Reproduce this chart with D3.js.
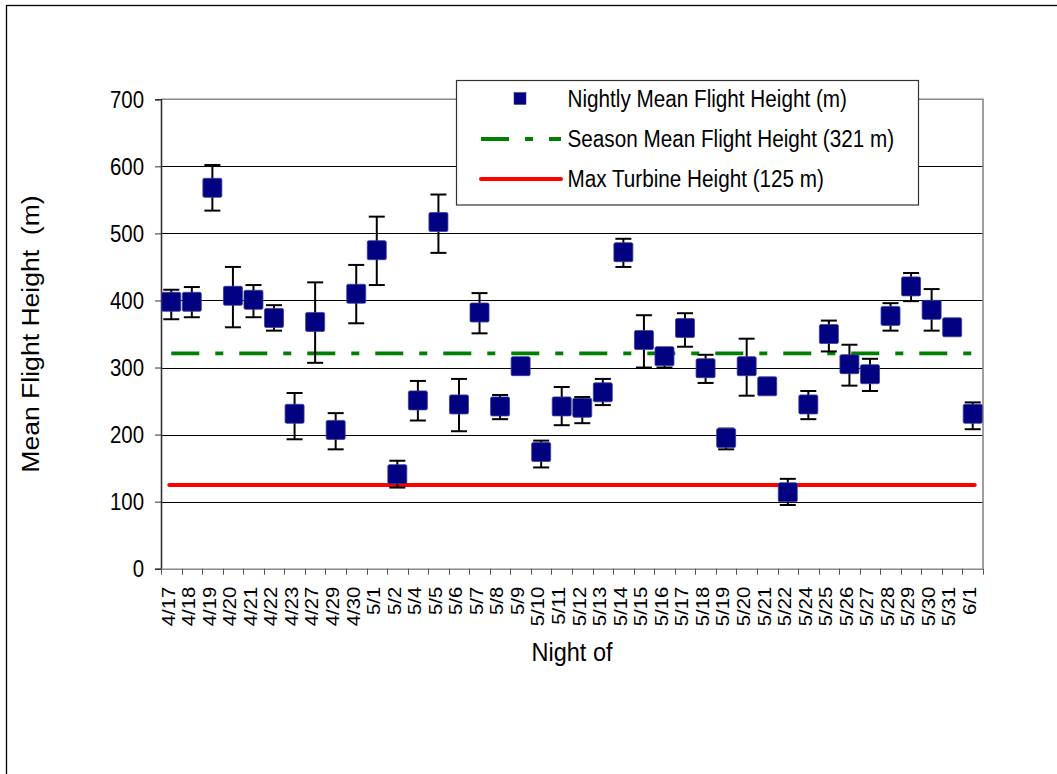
<!DOCTYPE html>
<html>
<head>
<meta charset="utf-8">
<script src="https://cdn.jsdelivr.net/npm/d3@7"></script>
<style>
  html, body { margin: 0; padding: 0; background: #fff; }
  svg { display: block; }
  text { font-family: "Liberation Sans", Arial, sans-serif; fill: #000; }
</style>
</head>
<body>
<svg id="chart" width="1057" height="774"></svg>
<script>
// Nights sampled
const nights = ["4/17","4/18","4/19","4/20","4/21","4/22","4/23","4/27","4/29","4/30",
  "5/1","5/2","5/4","5/5","5/6","5/7","5/8","5/9","5/10","5/11","5/12","5/13","5/14",
  "5/15","5/16","5/17","5/18","5/19","5/20","5/21","5/22","5/24","5/25","5/26","5/27",
  "5/28","5/29","5/30","5/31","6/1"];

// Nightly mean flight height (m)
const meanHeight = [398,398,568,407,401,374,231,368,207,410,
  475,141,251,517,245,382,242,302,174,242,240,263,472,
  341,317,359,299,195,302,272,114,245,350,305,290,
  377,421,386,360,231];

// Upper and lower ends of the error bars (m)
const upperHeight = [416,420,602,450,423,393,262,427,232,453,
  525,161,280,558,283,411,259,310,191,271,256,283,492,
  378,328,381,319,209,343,280,134,265,370,334,313,
  396,441,417,366,248];
const lowerHeight = [372,375,534,360,375,355,193,307,178,366,
  423,121,221,471,205,351,223,294,151,214,217,244,450,
  300,300,331,277,178,258,262,95,223,324,273,265,
  355,399,355,352,208];

// Reference levels (m)
const seasonMean = 321;
const maxTurbine = 125;

const yTicks = [0,100,200,300,400,500,600,700];

const legendLabels = [
  "Nightly Mean Flight Height (m)",
  "Season Mean Flight Height (321 m)",
  "Max Turbine Height (125 m)"
];

const navy = "#000080", green = "#008000", red = "#ff0000";

const svg = d3.select("#chart");
svg.append("rect").attr("width", 1057).attr("height", 774).attr("fill", "#fff");

// outer chart frame (runs past the page edge on the right and bottom)
svg.append("rect")
  .attr("x", 6.5).attr("y", 5.5).attr("width", 1200).attr("height", 1000)
  .attr("fill", "none").attr("stroke", "#000").attr("stroke-width", 1.3);

const plot = { left: 161, right: 983, top: 99.3, bottom: 568.7 };

const x = d3.scaleBand().domain(nights).range([plot.left, plot.right]).padding(0);
const y = d3.scaleLinear().domain([0, 700]).range([plot.bottom, plot.top]);
const cx = d => x(d) + x.bandwidth() / 2;

// horizontal gridlines
svg.append("g").selectAll("line")
  .data(yTicks.filter(v => v > 0 && v < 700))
  .join("line")
  .attr("x1", plot.left).attr("x2", plot.right)
  .attr("y1", d => Math.round(y(d)) + 0.5).attr("y2", d => Math.round(y(d)) + 0.5)
  .attr("stroke", "#000").attr("stroke-width", 1);

// plot area border (top and right)
svg.append("path")
  .attr("d", `M${plot.left},${plot.top}H${plot.right}V${plot.bottom}`)
  .attr("fill", "none").attr("stroke", "#888").attr("stroke-width", 1.6);

// y axis
const yAxis = svg.append("g")
  .attr("transform", `translate(${plot.left},0)`)
  .call(d3.axisLeft(y).tickValues(yTicks).tickSize(6).tickPadding(11).tickFormat(d3.format("d")));
yAxis.select(".domain").attr("stroke", "#333").attr("stroke-width", 1.6);
yAxis.selectAll(".tick line").attr("stroke", "#333");
yAxis.selectAll(".tick text")
  .attr("font-size", 20.4).attr("font-family", "Liberation Sans, Arial, sans-serif")
  .attr("dy", "0.34em")
  .attr("transform", "scale(1,1.13)");

// x axis: category labels at band centres
const xAxis = svg.append("g")
  .attr("transform", `translate(0,${plot.bottom})`)
  .call(d3.axisBottom(x).tickSize(0).tickPadding(0));
xAxis.select(".domain").attr("stroke", "#888").attr("stroke-width", 1.6);
xAxis.selectAll(".tick text")
  .attr("font-size", 18).attr("font-family", "Liberation Sans, Arial, sans-serif")
  .attr("text-anchor", "end")
  .attr("x", 0).attr("y", 0).attr("dy", "0.35em")
  .attr("transform", "translate(-3,18) rotate(-90) scale(1.13,1)");

// x tick marks between categories
const edges = nights.map(d => x(d)).concat([plot.right]);
svg.append("g").selectAll("line")
  .data(edges).join("line")
  .attr("x1", d => Math.round(d) + 0.5).attr("x2", d => Math.round(d) + 0.5)
  .attr("y1", plot.bottom).attr("y2", plot.bottom + 6)
  .attr("stroke", "#555").attr("stroke-width", 1);

// max turbine height
svg.append("line")
  .attr("x1", cx(nights[0]) - 2).attr("x2", cx(nights[nights.length - 1]) + 2)
  .attr("y1", y(maxTurbine)).attr("y2", y(maxTurbine))
  .attr("stroke", red).attr("stroke-width", 4).attr("stroke-linecap", "round");

// season mean
svg.append("line")
  .attr("x1", cx(nights[0])).attr("x2", cx(nights[nights.length - 1]))
  .attr("y1", y(seasonMean)).attr("y2", y(seasonMean))
  .attr("stroke", green).attr("stroke-width", 3.8).attr("stroke-dasharray", "28,16,8,16");

// error bars
const eb = svg.append("g").attr("stroke", "#000").attr("stroke-width", 2);
nights.forEach((d, i) => {
  const xc = cx(d);
  eb.append("line").attr("x1", xc).attr("x2", xc)
    .attr("y1", y(upperHeight[i])).attr("y2", y(lowerHeight[i]));
  [upperHeight[i], lowerHeight[i]].forEach(v => {
    eb.append("line").attr("x1", xc - 8).attr("x2", xc + 8)
      .attr("y1", y(v)).attr("y2", y(v));
  });
});

// nightly mean markers
svg.append("g").selectAll("rect")
  .data(nights).join("rect")
  .attr("x", d => cx(d) - 9.5)
  .attr("y", (d, i) => y(meanHeight[i]) - 9.5)
  .attr("width", 19).attr("height", 19).attr("rx", 1.5)
  .attr("fill", navy).attr("stroke", "#3c3c9c").attr("stroke-width", 0.8);

// legend
const lg = svg.append("g");
lg.append("rect")
  .attr("x", 456.5).attr("y", 80.5).attr("width", 462).attr("height", 124.5)
  .attr("fill", "#fff").attr("stroke", "#333").attr("stroke-width", 1.2);
const rows = [98.5, 139, 179];
lg.append("rect").attr("x", 514).attr("y", rows[0] - 6).attr("width", 12).attr("height", 12)
  .attr("fill", navy).attr("stroke", "#3c3c9c").attr("stroke-width", 0.6);
lg.append("line").attr("x1", 481).attr("x2", 561).attr("y1", rows[1]).attr("y2", rows[1])
  .attr("stroke", green).attr("stroke-width", 3.8).attr("stroke-dasharray", "28,16,8,16");
lg.append("line").attr("x1", 481).attr("x2", 561).attr("y1", rows[2]).attr("y2", rows[2])
  .attr("stroke", red).attr("stroke-width", 4).attr("stroke-linecap", "round");
legendLabels.forEach((t, i) => {
  lg.append("text")
    .attr("transform", `translate(567.5,${rows[i]}) scale(1,1.13)`)
    .attr("dy", "0.35em").attr("font-size", 20.7).text(t);
});

// axis titles
svg.append("text")
  .attr("transform", `translate(572,652) scale(1,1.13)`)
  .attr("text-anchor", "middle").attr("dy", "0.35em").attr("font-size", 23.5)
  .text("Night of");
svg.append("text")
  .attr("transform", `translate(31,334) rotate(-90) scale(1.13,1)`)
  .attr("text-anchor", "middle").attr("dy", "0.35em").attr("font-size", 23.5)
  .style("white-space", "pre")
  .text("Mean Flight Height  (m)");
</script>
</body>
</html>
